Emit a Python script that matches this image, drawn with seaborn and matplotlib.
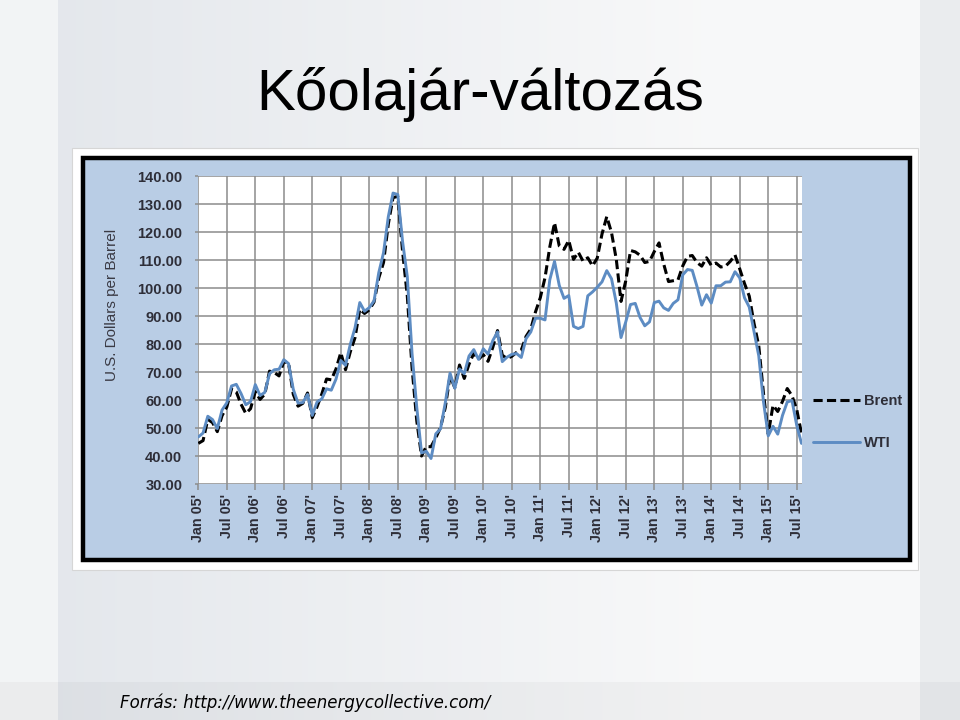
import numpy as np
import pandas as pd
import matplotlib
matplotlib.use("Agg")
import matplotlib.pyplot as plt
import seaborn as sns
from matplotlib.patches import Rectangle

# Monthly averages, Jan 2005 - Aug 2015 (US$ per barrel)
brent = [
    44.5, 45.5, 53.1, 51.9, 48.7, 54.4, 57.5, 64.0, 62.9, 58.5, 55.2, 56.9,
    63.0, 60.2, 62.1, 70.3, 69.8, 68.6, 73.7, 73.2, 62.0, 57.8, 58.8, 62.5,
    53.7, 57.6, 62.1, 67.5, 67.2, 71.1, 76.9, 70.8, 77.2, 82.3, 92.4, 90.9,
    92.2, 95.0, 103.6, 109.1, 122.8, 132.3, 132.7, 113.2, 97.2, 71.6, 52.5, 40.0,
    43.4, 43.3, 46.5, 50.2, 57.3, 68.6, 64.4, 72.5, 67.7, 72.8, 76.7, 74.5,
    76.2, 73.8, 78.8, 84.8, 76.0, 74.8, 75.6, 77.0, 77.8, 82.7, 85.3, 91.5,
    96.5, 103.7, 114.6, 123.3, 115.0, 113.8, 117.0, 110.2, 112.8, 109.6, 110.8, 107.9,
    110.7, 119.3, 125.5, 119.8, 110.3, 95.2, 102.6, 113.4, 112.9, 111.7, 109.1, 109.5,
    113.0, 116.1, 108.5, 102.3, 102.6, 102.9, 107.9, 111.3, 111.6, 109.1, 107.8, 110.8,
    108.1, 108.9, 107.5, 107.8, 109.5, 111.8, 106.8, 101.6, 97.1, 87.4, 79.4, 62.3,
    47.8, 58.1, 55.9, 59.5, 64.1, 61.5, 56.6, 48.0,
]

wti = [
    46.8, 48.2, 54.2, 53.0, 49.8, 56.4, 59.0, 65.0, 65.6, 62.3, 58.3, 59.4,
    65.5, 61.6, 62.7, 69.4, 70.8, 71.0, 74.4, 73.0, 63.8, 58.9, 59.1, 62.0,
    54.5, 59.3, 60.4, 64.0, 63.5, 67.5, 74.1, 72.4, 79.9, 85.8, 94.8, 91.7,
    93.0, 95.4, 105.5, 112.6, 125.4, 133.9, 133.4, 116.7, 104.1, 76.6, 57.3, 41.1,
    41.7, 39.1, 47.9, 49.7, 59.0, 69.6, 64.2, 71.1, 69.4, 75.7, 78.0, 74.5,
    78.3, 76.4, 81.2, 84.3, 73.7, 75.3, 76.3, 76.6, 75.2, 81.9, 84.3, 89.2,
    89.2, 88.6, 102.9, 109.5, 100.9, 96.3, 97.3, 86.3, 85.5, 86.3, 97.2, 98.6,
    100.3, 102.2, 106.2, 103.3, 94.7, 82.3, 87.9, 94.1, 94.5, 89.5, 86.5, 87.9,
    94.8, 95.3, 92.9, 92.0, 94.5, 95.8, 104.7, 106.6, 106.3, 100.5, 93.9, 97.6,
    94.6, 100.8, 100.8, 102.1, 102.2, 105.8, 103.6, 96.5, 93.2, 84.4, 75.8, 59.3,
    47.2, 50.6, 47.8, 54.5, 59.3, 59.8, 50.9, 44.5,
]

tick_labels = [
    "Jan 05'", "Jul 05'", "Jan 06'", "Jul 06'", "Jan 07'", "Jul 07'",
    "Jan 08'", "Jul 08'", "Jan 09'", "Jul 09'", "Jan 10'", "Jul 10'",
    "Jan 11'", "Jul 11'", "Jan 12'", "Jul 12'", "Jan 13'", "Jul 13'",
    "Jan 14'", "Jul 14'", "Jan 15'", "Jul 15'",
]
y_ticks = [30, 40, 50, 60, 70, 80, 90, 100, 110, 120, 130, 140]

sns.set_theme(style="white")
plt.rcParams['font.family'] = ['Liberation Sans', 'DejaVu Sans']

W, H = 960, 720
fig = plt.figure(figsize=(9.6, 7.2), dpi=100)


def box(x0, y0, x1, y1):
    # pixel box (top-left origin) -> figure fraction rect
    return [x0 / W, 1 - y1 / H, (x1 - x0) / W, (y1 - y0) / H]


# slide background
bg = fig.add_axes([0, 0, 1, 1], zorder=-10)
xx, yy = np.meshgrid(np.linspace(0, 1, W), np.linspace(0, 1, H))
c1 = np.array([0.895, 0.908, 0.926])
c2 = np.array([0.972, 0.974, 0.977])
t = np.clip((xx * W - 58) / 650, 0, 1)
img = c1 + (c2 - c1) * t[..., None]
img[:, :58] = [0.952, 0.957, 0.963]
img[:, 920:] = [0.918, 0.927, 0.937]
band = yy * H > 682
img[band] -= 0.03
bg.imshow(img, aspect='auto', extent=[0, 1, 0, 1])
bg.axis('off')

# pasted chart image frame
fig.add_artist(Rectangle((72 / W, 1 - 570 / H), 846 / W, 422 / H,
                         transform=fig.transFigure, facecolor='white',
                         edgecolor='#d6d6d6', lw=0.8, zorder=-5))
fig.add_artist(Rectangle((83 / W, 1 - 559.5 / H), 827 / W, 402 / H,
                         transform=fig.transFigure, facecolor='#b9cde5',
                         edgecolor='black', lw=3.2, zorder=-4))

df = pd.DataFrame({'month': np.arange(len(brent)), 'Brent': brent, 'WTI': wti})

ax = fig.add_axes(box(198.3, 176, 801.5, 484))
ax.set_facecolor('white')
sns.lineplot(data=df, x='month', y='Brent', ax=ax, color='black', lw=2.2,
             linestyle=(0, (3, 1.4)), label='Brent')
sns.lineplot(data=df, x='month', y='WTI', ax=ax, color='#5d8cc3', lw=2.1,
             label='WTI')

ax.set_xlim(0, len(brent) - 1)
ax.set_ylim(30, 140)
ax.set_xticks(df['month'][::6])
ax.set_xticklabels(tick_labels, rotation=90, fontweight='bold')
ax.set_yticks(y_ticks)
ax.set_yticklabels([f"{v:.2f}" for v in y_ticks], fontweight='bold')
ax.grid(True, color='#8c8c8c', lw=1.1)
for s in ax.spines.values():
    s.set_visible(False)
ax.tick_params(axis='x', bottom=True, length=4.5, width=1.1, color='#8c8c8c',
               pad=2.5, labelsize=10.3, labelcolor='#2e2e38')
ax.tick_params(axis='y', left=True, length=2.5, width=1.1, color='#8c8c8c',
               pad=9, labelsize=10.5, labelcolor='#2e2e38')
ax.set_xlabel('')
ax.set_ylabel('U.S. Dollars per Barrel', fontsize=11, color='#3a3a44')
ax.yaxis.set_label_coords(-0.131, 0.581)

leg = ax.legend(loc='center left', bbox_to_anchor=(806 / W, 1 - 422 / H),
                bbox_transform=fig.transFigure, frameon=False, fontsize=10.5,
                handlelength=3.2, handletextpad=0.3, labelspacing=1.9,
                borderpad=0, labelcolor='#2e2e38')
for txt in leg.get_texts():
    txt.set_fontweight('bold')

fig.text(480.5 / W, 1 - 110 / H, "Kőolajár-változás", ha='center',
         va='baseline', fontsize=42, color='black')
fig.text(120 / W, 1 - 708 / H, "Forrás: http://www.theenergycollective.com/",
         ha='left', va='baseline', fontsize=12, style='italic',
         family=['DejaVu Sans'], color='black')

fig.savefig('out.png', dpi=100)
